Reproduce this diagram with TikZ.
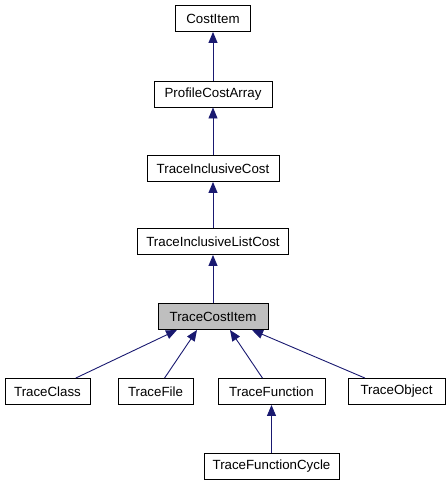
\documentclass[tikz,border=0pt]{standalone}
\usepackage{fontspec}
\setmainfont{Liberation Sans}
\usepackage{tikz}
\usetikzlibrary{arrows.meta,calc}
\definecolor{edgeblue}{HTML}{191970}
\definecolor{basegray}{HTML}{BFBFBF}
\tikzset{
clsbox/.style={rectangle,draw=black,line width=0.9pt,fill=white,align=center,inner sep=0pt,minimum height=26pt,font=\fontsize{13.3}{15}\selectfont},
clscur/.style={clsbox,fill=basegray},
inharr/.style={-{Triangle[length=11pt,width=9pt]},draw=edgeblue,line width=0.9pt}
}

\begin{document}
\begin{tikzpicture}[
x=1pt,
y=-1pt
]
\useasboundingbox (0,0) rectangle (447,485);
\node[clsbox,minimum width=75pt] (costitem) at (213,18.5) {CostItem};
\node[clsbox,minimum width=118pt] (profile) at (213,94) {ProfileCostArray};
\node[clsbox,minimum width=132pt] (inclcost) at (213,168.5) {TraceInclusiveCost};
\node[clsbox,minimum width=151pt] (incllist) at (213,241.5) {TraceInclusiveListCost};
\node[clscur,minimum width=110pt] (tcost) at (213,316.5) {TraceCostItem};
\node[clsbox,minimum width=85pt] (tclass) at (47.5,391.5) {TraceClass};
\node[clsbox,minimum width=75pt] (tfile) at (155.5,391.5) {TraceFile};
\node[clsbox,minimum width=107pt] (tfunc) at (271.5,391.5) {TraceFunction};
\node[clsbox,minimum width=97pt] (tobject) at (396.5,391.5) {TraceObject};
\node[clsbox,minimum width=135pt] (tcycle) at (271.5,466) {TraceFunctionCycle};
% inheritance edges, child -> base
\draw[inharr] (profile)--(costitem);
\draw[inharr] (inclcost)--(profile);
\draw[inharr] (incllist)--(inclcost);
\draw[inharr] (tcost)--(incllist);
\draw[inharr] (tclass)--($(tcost.south)+(-36,0)$);
\draw[inharr] (tfile)--($(tcost.south)+(-16,0)$);
\draw[inharr] (tfunc)--($(tcost.south)+(17,0)$);
\draw[inharr] (tobject)--($(tcost.south)+(39,0)$);
\draw[inharr] (tcycle)--(tfunc);
\end{tikzpicture}
\end{document}
